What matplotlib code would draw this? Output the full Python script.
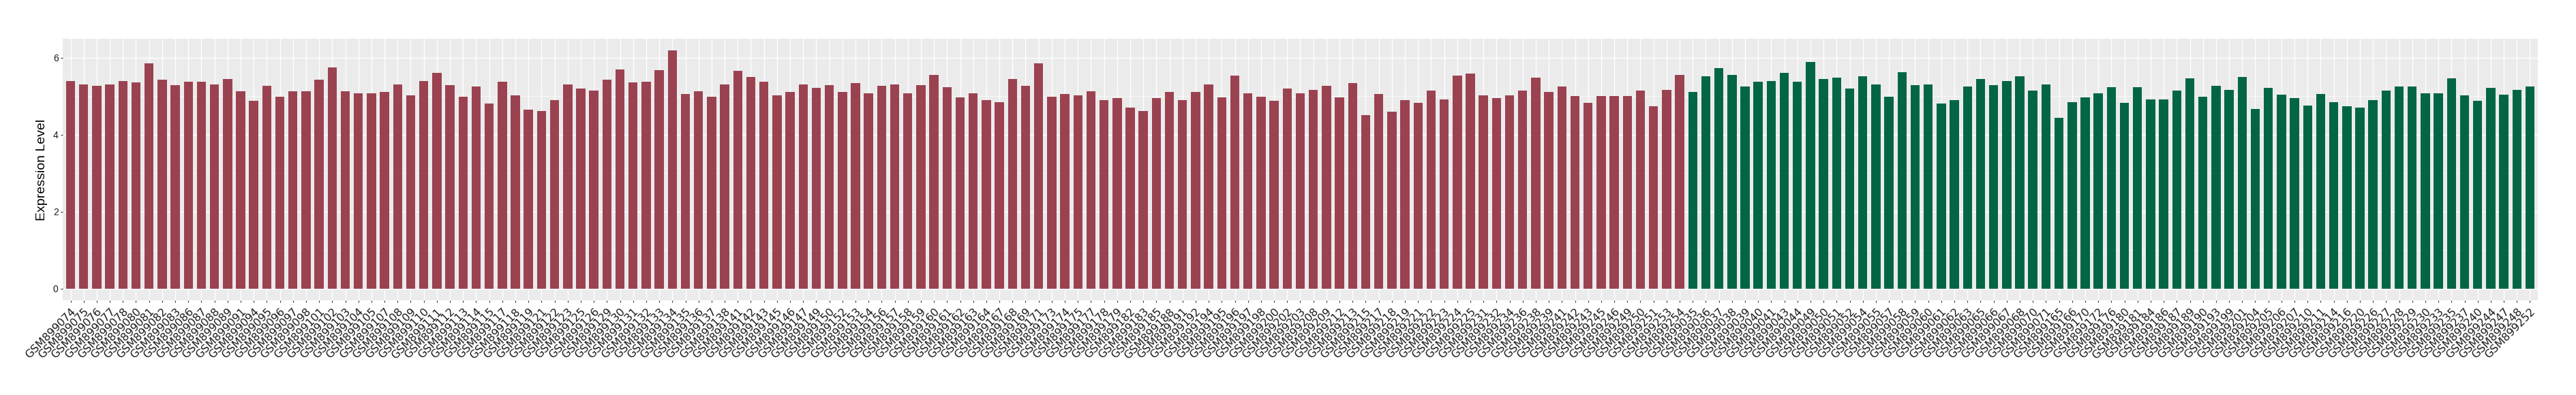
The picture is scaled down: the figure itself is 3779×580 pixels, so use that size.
import matplotlib
matplotlib.use('Agg')
import matplotlib.pyplot as plt
import matplotlib.transforms as mtransforms
from matplotlib.ticker import MultipleLocator

# samples of the first group (red)
red_samples = [
  'GSM899074', 'GSM899075', 'GSM899076', 'GSM899077', 'GSM899078', 'GSM899080', 'GSM899081', 'GSM899082',
  'GSM899083', 'GSM899086', 'GSM899087', 'GSM899088', 'GSM899089', 'GSM899091', 'GSM899094', 'GSM899095',
  'GSM899096', 'GSM899097', 'GSM899098', 'GSM899101', 'GSM899102', 'GSM899103', 'GSM899104', 'GSM899105',
  'GSM899107', 'GSM899108', 'GSM899109', 'GSM899110', 'GSM899111', 'GSM899112', 'GSM899113', 'GSM899114',
  'GSM899115', 'GSM899117', 'GSM899118', 'GSM899119', 'GSM899121', 'GSM899122', 'GSM899123', 'GSM899125',
  'GSM899126', 'GSM899129', 'GSM899130', 'GSM899131', 'GSM899132', 'GSM899133', 'GSM899134', 'GSM899135',
  'GSM899136', 'GSM899137', 'GSM899138', 'GSM899141', 'GSM899142', 'GSM899143', 'GSM899145', 'GSM899146',
  'GSM899147', 'GSM899149', 'GSM899150', 'GSM899152', 'GSM899153', 'GSM899154', 'GSM899156', 'GSM899157',
  'GSM899158', 'GSM899159', 'GSM899160', 'GSM899161', 'GSM899162', 'GSM899163', 'GSM899164', 'GSM899167',
  'GSM899168', 'GSM899169', 'GSM899171', 'GSM899173', 'GSM899174', 'GSM899175', 'GSM899177', 'GSM899178',
  'GSM899179', 'GSM899182', 'GSM899183', 'GSM899185', 'GSM899188', 'GSM899191', 'GSM899192', 'GSM899194',
  'GSM899195', 'GSM899196', 'GSM899197', 'GSM899198', 'GSM899200', 'GSM899202', 'GSM899203', 'GSM899208',
  'GSM899209', 'GSM899212', 'GSM899213', 'GSM899215', 'GSM899217', 'GSM899218', 'GSM899219', 'GSM899221',
  'GSM899222', 'GSM899223', 'GSM899224', 'GSM899225', 'GSM899231', 'GSM899232', 'GSM899234', 'GSM899236',
  'GSM899238', 'GSM899239', 'GSM899241', 'GSM899242', 'GSM899243', 'GSM899245', 'GSM899246', 'GSM899249',
  'GSM899250', 'GSM899251', 'GSM899253', 'GSM899254',
]
red_values = [
  5.40, 5.31, 5.26, 5.31, 5.40, 5.35, 5.85, 5.42,
  5.28, 5.38, 5.38, 5.31, 5.44, 5.12, 4.87, 5.26,
  4.98, 5.12, 5.13, 5.42, 5.74, 5.12, 5.08, 5.08,
  5.10, 5.30, 5.02, 5.40, 5.60, 5.28, 4.98, 5.25,
  4.80, 5.37, 5.02, 4.64, 4.62, 4.90, 5.31, 5.19,
  5.15, 5.42, 5.69, 5.35, 5.38, 5.67, 6.18, 5.05,
  5.13, 4.98, 5.31, 5.65, 5.50, 5.37, 5.02, 5.10,
  5.30, 5.21, 5.28, 5.10, 5.33, 5.07, 5.26, 5.31,
  5.08, 5.28, 5.55, 5.23, 4.96, 5.08, 4.89, 4.85,
  5.44, 5.26, 5.86, 4.98, 5.05, 5.02, 5.13, 4.89,
  4.94, 4.70, 4.62, 4.94, 5.10, 4.89, 5.10, 5.30,
  4.96, 5.53, 5.07, 4.98, 4.87, 5.19, 5.07, 5.17,
  5.26, 4.96, 5.33, 4.50, 5.05, 4.59, 4.89, 4.82,
  5.15, 4.92, 5.53, 5.58, 5.02, 4.94, 5.02, 5.15,
  5.48, 5.10, 5.25, 5.00, 4.82, 5.00, 5.00, 5.00,
  5.15, 4.73, 5.17, 5.55,
]

# samples of the second group (green)
green_samples = [
  'GSM899035', 'GSM899036', 'GSM899037', 'GSM899038', 'GSM899039', 'GSM899040', 'GSM899041', 'GSM899043',
  'GSM899044', 'GSM899049', 'GSM899050', 'GSM899051', 'GSM899052', 'GSM899054', 'GSM899055', 'GSM899057',
  'GSM899058', 'GSM899059', 'GSM899060', 'GSM899061', 'GSM899062', 'GSM899063', 'GSM899065', 'GSM899066',
  'GSM899067', 'GSM899068', 'GSM899070', 'GSM899071', 'GSM899165', 'GSM899166', 'GSM899170', 'GSM899172',
  'GSM899176', 'GSM899180', 'GSM899181', 'GSM899184', 'GSM899186', 'GSM899187', 'GSM899189', 'GSM899190',
  'GSM899193', 'GSM899199', 'GSM899201', 'GSM899204', 'GSM899205', 'GSM899206', 'GSM899207', 'GSM899210',
  'GSM899211', 'GSM899214', 'GSM899216', 'GSM899220', 'GSM899226', 'GSM899227', 'GSM899228', 'GSM899229',
  'GSM899230', 'GSM899233', 'GSM899235', 'GSM899237', 'GSM899240', 'GSM899244', 'GSM899247', 'GSM899248',
  'GSM899252',
]
green_values = [
  5.10, 5.51, 5.72, 5.55, 5.25, 5.38, 5.40, 5.60,
  5.38, 5.88, 5.44, 5.48, 5.19, 5.51, 5.30, 4.98,
  5.63, 5.28, 5.30, 4.80, 4.90, 5.25, 5.44, 5.28,
  5.40, 5.51, 5.15, 5.30, 4.43, 4.85, 4.96, 5.07,
  5.23, 4.82, 5.23, 4.92, 4.92, 5.15, 5.46, 4.98,
  5.26, 5.17, 5.50, 4.66, 5.21, 5.03, 4.94, 4.75,
  5.05, 4.85, 4.73, 4.70, 4.90, 5.15, 5.25, 5.25,
  5.08, 5.07, 5.46, 5.02, 4.87, 5.21, 5.03, 5.17,
  5.25,
]

red_color = '#9b4251'
green_color = '#026646'

samples = red_samples + green_samples
values = red_values + green_values
colors = [red_color] * len(red_samples) + [green_color] * len(green_samples)
x = list(range(len(samples)))

fig = plt.figure(figsize=(37.8, 5.8), dpi=100)
ax = fig.add_axes([92 / 3780, 139 / 580, 3631 / 3780, 384 / 580])

ax.set_facecolor('#ebebeb')
ax.bar(x, values, width=0.7, color=colors, zorder=3)

ymax = max(values)
ax.set_ylim(-0.05 * ymax, 1.05 * ymax)
ax.set_xlim(-0.6, len(samples) - 1 + 0.6)

ax.yaxis.set_major_locator(MultipleLocator(2))
ax.yaxis.set_minor_locator(MultipleLocator(1))
ax.grid(which='major', axis='both', color='white', linewidth=1.0, zorder=0)
ax.grid(which='minor', axis='y', color='white', linewidth=0.5, zorder=0)
ax.set_axisbelow(True)

for s in ax.spines.values():
  s.set_visible(False)

ax.set_xticks(x)
ax.set_xticklabels(samples, rotation=45, ha='right', va='top',
                   rotation_mode='anchor', fontsize=11.5, family='DejaVu Sans', color='#1a1a1a')
offset = mtransforms.ScaledTranslation(3 / 100, 0, fig.dpi_scale_trans)
for lbl in ax.get_xticklabels():
  lbl.set_transform(lbl.get_transform() + offset)

ax.tick_params(axis='both', which='major', length=2.5, width=0.8, color='#333333', pad=4)
ax.tick_params(axis='y', which='minor', length=0)
ax.tick_params(axis='y', labelsize=10, labelcolor='#1a1a1a', pad=2)
for lbl in ax.get_yticklabels():
  lbl.set_family('Liberation Sans')

ax.set_ylabel('Expression Level', fontsize=14, family='Liberation Sans', labelpad=6)

fig.savefig('out.png', dpi=100)
